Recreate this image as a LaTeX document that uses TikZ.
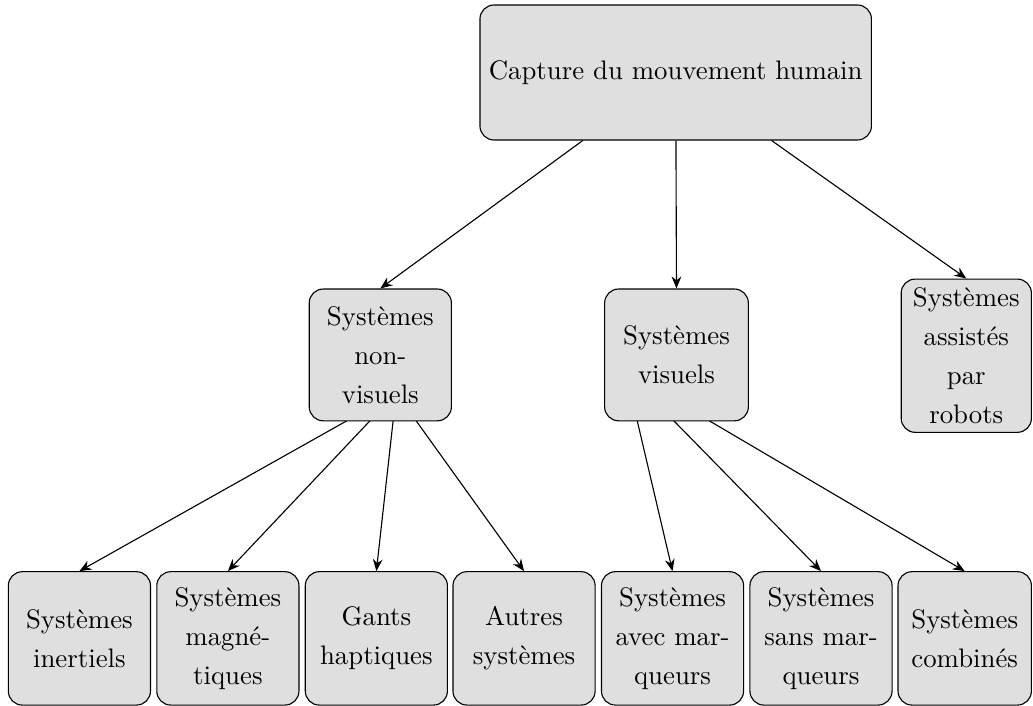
\documentclass[tikz,border=0pt]{standalone}
\usepackage{tikz}
\usetikzlibrary{backgrounds,calc,arrows.meta}
\begin{document}
\begin{tikzpicture}[line width=0.4pt,>={Stealth[length=4.3pt,width=3.5pt]},bx/.style={draw,rounded corners=5pt,fill=gray!25,align=center,inner sep=1pt,minimum width=1.79cm,minimum height=1.66cm,font=\fontsize{9.6}{14}\selectfont}]
\useasboundingbox (0,0) rectangle (13.01,-8.89);
\node[bx,minimum width=4.93cm,minimum height=1.70cm] (root) at (8.51,-0.913) {Capture du mouvement humain};
\node[bx] (nv) at (4.79,-4.47) {Systèmes\\non-\\visuels};
\node[bx,minimum width=1.81cm] (vi) at (8.52,-4.47) {Systèmes\\visuels};
\node[bx,minimum width=1.64cm,minimum height=1.93cm] (rb) at (12.17,-4.48) {Systèmes\\assistés\\par\\robots};
\foreach \x/\n/\t in {1.00/c1/{Systèmes\\inertiels},2.87/c2/{Systèmes\\magné-\\tiques},4.74/c3/{Gants\\haptiques},6.60/c4/{Autres\\systèmes},8.47/c5/{Systèmes\\avec mar-\\queurs},10.34/c6/{Systèmes\\sans mar-\\queurs}}{\node[bx,minimum height=1.68cm] (\n) at (\x,-8.04) {\t};};
\node[bx,minimum width=1.68cm,minimum height=1.68cm] (c7) at (12.15,-8.04) {Systèmes\\combinés};
\begin{pgfonlayer}{background}
\foreach \c in {nv,vi,rb}{\draw[->] (root) -- (\c.north);};
\foreach \c in {c1,c2,c3,c4}{\draw[->] ($(nv)+(0.20,-0.48)$) -- (\c.north);};
\foreach \c in {c5,c6,c7}{\draw[->] ($(vi)+(-0.64,-0.21)$) -- (\c.north);};
\end{pgfonlayer}
\end{tikzpicture}
\end{document}
